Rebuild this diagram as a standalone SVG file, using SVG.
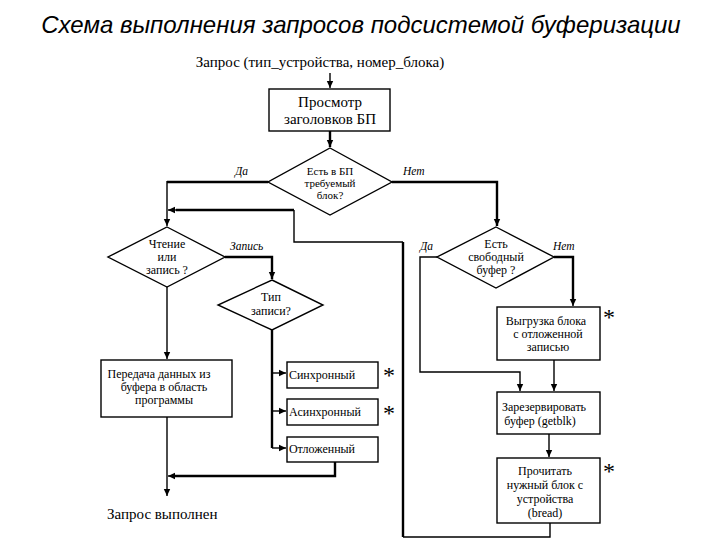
<svg xmlns="http://www.w3.org/2000/svg" width="720" height="540" viewBox="0 0 720 540">
<defs>
<marker id="ah" markerUnits="userSpaceOnUse" markerWidth="8" markerHeight="8" refX="7" refY="4" orient="auto">
<path d="M0,0.8 L7,4 L0,7.2 z" fill="#000"/>
</marker>
<style>
.title{font-family:'Liberation Sans',Arial,sans-serif;font-style:italic;font-size:24px;fill:#000}
text{font-family:'Liberation Serif','Times New Roman',serif}
.t{font-size:12px;fill:#000;text-anchor:middle}
.ts{font-size:11px;fill:#000;text-anchor:middle}
.tl{font-size:15px;fill:#000}
.tb{font-size:15px;fill:#000;text-anchor:middle}
.lab{font-size:11.5px;font-style:italic;fill:#000}
.star{font-family:'Liberation Serif',serif;font-size:24px;fill:#000}
.box{fill:#fff;stroke:#000;stroke-width:1.4}
.c{fill:none;stroke:#000;stroke-width:1.4}
.k{fill:none;stroke:#000;stroke-width:2.4}
</style>
</defs>
<rect width="720" height="540" fill="#fff"/>
<text class="title" x="361" y="33" text-anchor="middle">Схема выполнения запросов подсистемой буферизации</text>

<g id="connectors">
<path class="c" d="M330,73 V88" marker-end="url(#ah)"/>
<path class="k" d="M330,131 V147" marker-end="url(#ah)"/>
<path class="k" d="M268,182 H167"/>
<path class="c" d="M167,181 V226" marker-end="url(#ah)"/>
<path class="k" d="M392,182 H497 V226" marker-end="url(#ah)"/>
<path class="k" d="M225,257 H272 V279" marker-end="url(#ah)"/>
<path class="c" d="M167,287 V359" marker-end="url(#ah)"/>
<path class="c" d="M167,417 V496" marker-end="url(#ah)"/>
<path class="k" d="M272,330 V448"/>
<path class="c" d="M272,373 H286" marker-end="url(#ah)"/>
<path class="c" d="M272,411 H286" marker-end="url(#ah)"/>
<path class="c" d="M272,448 H286" marker-end="url(#ah)"/>
<path class="k" d="M335,462 V476 H175"/>
<path class="c" d="M176,476 H168" marker-end="url(#ah)"/>
<path class="c" d="M437,257 H420 V372 H520 V391" marker-end="url(#ah)"/>
<path class="k" d="M554,257 H573 V300"/>
<path class="c" d="M573,299 V306" marker-end="url(#ah)"/>
<path class="c" d="M554,360 V391" marker-end="url(#ah)"/>
<path class="c" d="M549,434 V457" marker-end="url(#ah)"/>
<path class="c" d="M550,523 V537 H403"/>
<path class="k" d="M403,537 V242"/>
<path class="c" d="M403,242 H294 V210"/>
<path class="k" d="M294,210 H176"/>
<path class="c" d="M177,210 H168" marker-end="url(#ah)"/>
</g>

<g id="start"><text class="tl" x="320" y="67" text-anchor="middle">Запрос (тип_устройства, номер_блока)</text></g>

<g id="view">
<rect class="box" x="269" y="89" width="121" height="42"/>
<text class="tb" x="330" y="107">Просмотр</text>
<text class="tb" x="330" y="124">заголовков БП</text>
</g>

<g id="d-has">
<polygon class="box" points="330,148 392,182 330,215 268,182"/>
<text class="ts" x="330" y="175">Есть в БП</text>
<text class="ts" x="330" y="187">требуемый</text>
<text class="ts" x="330" y="199">блок?</text>
<text class="lab" x="235" y="175">Да</text>
<text class="lab" x="403" y="175">Нет</text>
</g>

<g id="d-rw">
<polygon class="box" points="167,227 225,257 167,287 108,257"/>
<text class="t" x="167" y="248">Чтение</text>
<text class="t" x="167" y="261">или</text>
<text class="t" x="167" y="274">запись ?</text>
<text class="lab" x="230" y="250">Запись</text>
</g>

<g id="d-type">
<polygon class="box" points="272,280 323,305 272,330 218,305"/>
<text class="t" x="271" y="301">Тип</text>
<text class="t" x="271" y="315">записи?</text>
</g>

<g id="transfer">
<rect class="box" x="101" y="360" width="131" height="57"/>
<text class="t" x="159" y="378">Передача данных из</text>
<text class="t" x="164" y="391">буфера в область</text>
<text class="t" x="164" y="404">программы</text>
</g>

<g id="done"><text class="tl" x="107" y="519">Запрос выполнен</text></g>

<g id="sync">
<rect class="box" x="287" y="362" width="91" height="26"/>
<text class="t" x="322" y="379">Синхронный</text>
<text class="star" x="383" y="383">*</text>
</g>
<g id="async">
<rect class="box" x="287" y="399" width="91" height="26"/>
<text class="t" x="325" y="416">Асинхронный</text>
<text class="star" x="383" y="421">*</text>
</g>
<g id="delayed">
<rect class="box" x="287" y="437" width="91" height="25"/>
<text class="t" x="322" y="453">Отложенный</text>
</g>

<g id="d-free">
<polygon class="box" points="496,227 554,257 496,288 437,257"/>
<text class="t" x="496" y="248">Есть</text>
<text class="t" x="496" y="261">свободный</text>
<text class="t" x="496" y="274">буфер ?</text>
<text class="lab" x="420" y="250">Да</text>
<text class="lab" x="553" y="250">Нет</text>
</g>

<g id="unload">
<rect class="box" x="497" y="307" width="103" height="53"/>
<text class="t" x="546" y="325">Выгрузка блока</text>
<text class="t" x="548" y="338">с отложенной</text>
<text class="t" x="548" y="351">записью</text>
<text class="star" x="603" y="325">*</text>
</g>

<g id="reserve">
<rect class="box" x="497" y="392" width="103" height="42"/>
<text class="t" x="544" y="411">Зарезервировать</text>
<text class="t" x="540" y="425">буфер (getblk)</text>
</g>

<g id="read">
<rect class="box" x="497" y="458" width="103" height="65"/>
<text class="t" x="545" y="475">Прочитать</text>
<text class="t" x="545" y="489">нужный блок с</text>
<text class="t" x="545" y="503">устройства</text>
<text class="t" x="545" y="517">(bread)</text>
<text class="star" x="603" y="479">*</text>
</g>
</svg>
